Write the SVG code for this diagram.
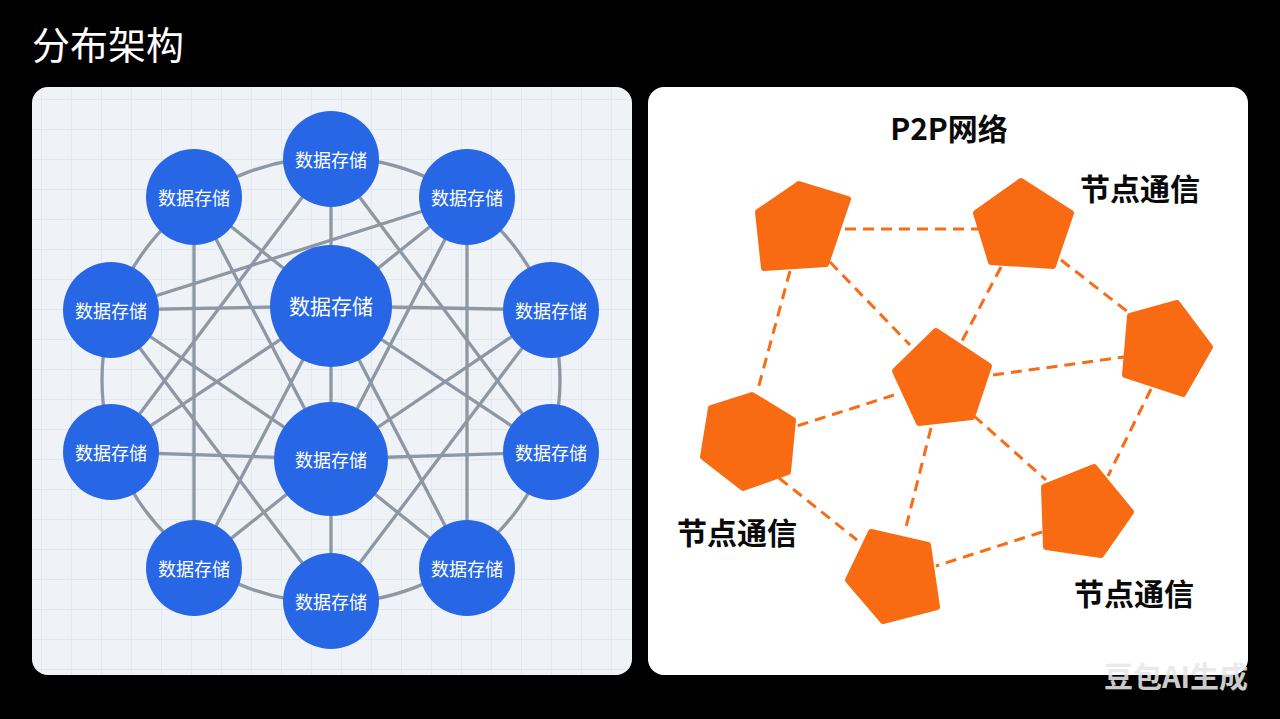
<svg xmlns="http://www.w3.org/2000/svg" width="1280" height="719" viewBox="0 0 1280 719">
<defs>
<pattern id="grid" x="12" y="10" width="30" height="30" patternUnits="userSpaceOnUse">
<path d="M30 0 V30 M0 30 H30" fill="none" stroke="#dde3eb" stroke-width="1.3"/>
</pattern>
<clipPath id="lp"><rect x="32" y="87" width="600" height="588" rx="16"/></clipPath>
</defs>
<style>
.lbl{font-family:"Noto Sans CJK SC","Noto Sans",sans-serif;fill:#ffffff;text-anchor:middle;dominant-baseline:central}
.node circle{fill:#2767e6}
.edge{stroke:#8e97a4;stroke-width:3.3;fill:none;stroke-linecap:round}
.dash{stroke:#f76c17;stroke-width:3;fill:none;stroke-dasharray:11 7}
.pent{fill:#f86b13;stroke:#f86b13;stroke-width:6;stroke-linejoin:round}
.blk{font-family:"Noto Sans CJK SC","Noto Sans",sans-serif;font-weight:700;fill:#0a0a0a;text-anchor:middle;dominant-baseline:central}
</style>
<rect width="1280" height="719" fill="#000"/>
<text x="32" y="42" font-family="Noto Sans CJK SC, Noto Sans, sans-serif" font-size="38" fill="#fff" dominant-baseline="central">分布架构</text>

<g id="left-panel">
<rect x="32" y="87" width="600" height="588" rx="16" fill="#eff2f7"/>
<rect x="32" y="87" width="600" height="588" fill="url(#grid)" clip-path="url(#lp)"/>
</g>

<g id="connectors-left">
<ellipse class="edge" cx="331" cy="380" rx="229" ry="223"/>
<line class="edge" x1="331" y1="159" x2="331" y2="306"/>
<line class="edge" x1="331" y1="306" x2="331" y2="459"/>
<line class="edge" x1="331" y1="459" x2="331" y2="601"/>
<line class="edge" x1="111" y1="310" x2="331" y2="306"/>
<line class="edge" x1="331" y1="306" x2="551" y2="310"/>
<line class="edge" x1="111" y1="452" x2="331" y2="459"/>
<line class="edge" x1="331" y1="459" x2="551" y2="452"/>
<line class="edge" x1="194" y1="197" x2="194" y2="568"/>
<line class="edge" x1="467" y1="197" x2="467" y2="568"/>
<line class="edge" x1="467" y1="197" x2="111" y2="310"/>
<line class="edge" x1="194" y1="197" x2="331" y2="306"/>
<line class="edge" x1="194" y1="197" x2="331" y2="459"/>
<line class="edge" x1="467" y1="197" x2="331" y2="306"/>
<line class="edge" x1="467" y1="197" x2="331" y2="459"/>
<line class="edge" x1="331" y1="159" x2="111" y2="452"/>
<line class="edge" x1="331" y1="159" x2="551" y2="452"/>
<line class="edge" x1="111" y1="310" x2="331" y2="601"/>
<line class="edge" x1="551" y1="310" x2="331" y2="601"/>
<line class="edge" x1="111" y1="310" x2="331" y2="459"/>
<line class="edge" x1="551" y1="310" x2="331" y2="459"/>
<line class="edge" x1="111" y1="452" x2="331" y2="306"/>
<line class="edge" x1="551" y1="452" x2="331" y2="306"/>
<line class="edge" x1="194" y1="568" x2="331" y2="306"/>
<line class="edge" x1="467" y1="568" x2="331" y2="306"/>
<line class="edge" x1="194" y1="568" x2="331" y2="459"/>
<line class="edge" x1="467" y1="568" x2="331" y2="459"/>
</g>

<g id="n-top" class="node"><circle cx="331" cy="159" r="48"/><text class="lbl" x="331" y="159" font-size="18">数据存储</text></g>
<g id="n-tl" class="node"><circle cx="194" cy="197" r="48"/><text class="lbl" x="194" y="197" font-size="18">数据存储</text></g>
<g id="n-tr" class="node"><circle cx="467" cy="197" r="48"/><text class="lbl" x="467" y="197" font-size="18">数据存储</text></g>
<g id="n-lu" class="node"><circle cx="111" cy="310" r="48"/><text class="lbl" x="111" y="310" font-size="18">数据存储</text></g>
<g id="n-ru" class="node"><circle cx="551" cy="310" r="48"/><text class="lbl" x="551" y="310" font-size="18">数据存储</text></g>
<g id="n-ll" class="node"><circle cx="111" cy="452" r="48"/><text class="lbl" x="111" y="452" font-size="18">数据存储</text></g>
<g id="n-rl" class="node"><circle cx="551" cy="452" r="48"/><text class="lbl" x="551" y="452" font-size="18">数据存储</text></g>
<g id="n-bl" class="node"><circle cx="194" cy="568" r="48"/><text class="lbl" x="194" y="568" font-size="18">数据存储</text></g>
<g id="n-br" class="node"><circle cx="467" cy="568" r="48"/><text class="lbl" x="467" y="568" font-size="18">数据存储</text></g>
<g id="n-bottom" class="node"><circle cx="331" cy="601" r="48"/><text class="lbl" x="331" y="601" font-size="18">数据存储</text></g>
<g id="n-c1" class="node"><circle cx="331" cy="306" r="61"/><text class="lbl" x="331" y="305" font-size="21">数据存储</text></g>
<g id="n-c2" class="node"><circle cx="331" cy="459" r="57"/><text class="lbl" x="331" y="459" font-size="18">数据存储</text></g>

<g id="right-panel">
<rect x="648" y="87" width="600" height="588" rx="16" fill="#ffffff"/>
<text class="blk" x="949" y="127" font-size="30">P2P网络</text>
</g>

<g id="connectors-right">
<line class="dash" x1="845" y1="229" x2="978" y2="229"/>
<line class="dash" x1="830" y1="262" x2="910" y2="345"/>
<line class="dash" x1="790" y1="271" x2="758" y2="389"/>
<line class="dash" x1="1001" y1="267" x2="962" y2="341"/>
<line class="dash" x1="1061" y1="260" x2="1128" y2="312"/>
<line class="dash" x1="993" y1="375" x2="1124" y2="357"/>
<line class="dash" x1="894" y1="395" x2="797" y2="426"/>
<line class="dash" x1="974" y1="416" x2="1046" y2="480"/>
<line class="dash" x1="931" y1="428" x2="906" y2="527"/>
<line class="dash" x1="1151" y1="389" x2="1108" y2="476"/>
<line class="dash" x1="779" y1="478" x2="857" y2="540"/>
<line class="dash" x1="1042" y1="532" x2="936" y2="566"/>
</g>

<g id="p1"><polygon class="pent" points="799,184 848,199 826,264 764,268 758,212"/></g>
<g id="p2"><polygon class="pent" points="1021,181 1071,213 1053,266 991,262 976,213"/></g>
<g id="p3"><polygon class="pent" points="1177,303 1210,347 1183,394 1125,375 1130,316"/></g>
<g id="p4"><polygon class="pent" points="936,331 989,366 972,417 919,423 895,371"/></g>
<g id="p5"><polygon class="pent" points="752,395 793,420 788,472 743,488 703,457 711,408"/></g>
<g id="p6"><polygon class="pent" points="1094,467 1131,512 1101,555 1046,547 1044,487"/></g>
<g id="p7"><polygon class="pent" points="871,532 928,545 937,607 883,621 848,580"/></g>

<g id="labels-right">
<text class="blk" x="1140" y="187" font-size="30">节点通信</text>
<text class="blk" x="737" y="531" font-size="30">节点通信</text>
<text class="blk" x="1134" y="592" font-size="30">节点通信</text>
</g>

<text x="1176" y="675" font-family="Noto Sans CJK SC, Noto Sans, sans-serif" font-weight="700" font-size="29" fill="#e8e8e8" fill-opacity="0.9" text-anchor="middle" dominant-baseline="central">豆包AI生成</text>
</svg>
